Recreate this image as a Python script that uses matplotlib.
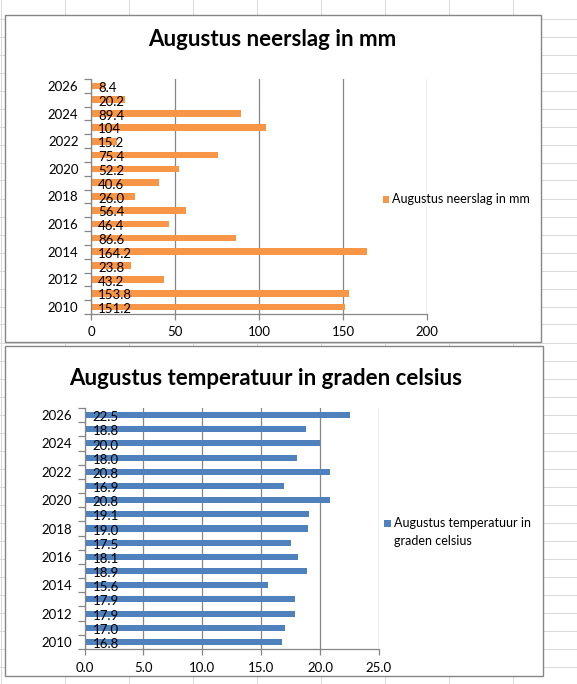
import matplotlib
matplotlib.use("Agg")
import matplotlib.pyplot as plt
from matplotlib.patches import Rectangle
from matplotlib.lines import Line2D

plt.rcParams['font.family'] = ['Lato', 'DejaVu Sans']

years = list(range(2010, 2027))
neerslag = [151.2, 153.8, 43.2, 23.8, 164.2, 86.6, 46.4, 56.4, 26.0, 40.6,
            52.2, 75.4, 15.2, 104, 89.4, 20.2, 8.4]
neerslag_labels = ["151.2", "153.8", "43.2", "23.8", "164.2", "86.6", "46.4", "56.4", "26.0", "40.6",
                   "52.2", "75.4", "15.2", "104", "89.4", "20.2", "8.4"]
temperatuur = [16.8, 17.0, 17.9, 17.9, 15.6, 18.9, 18.1, 17.5, 19.0, 19.1,
               20.8, 16.9, 20.8, 18.0, 20.0, 18.8, 22.5]
year_labels = [str(y) if (y % 2 == 0) else "" for y in years]
neerslag_ticks = [0, 50, 100, 150, 200]
temp_ticks = [0, 5, 10, 15, 20, 25]
temp_tick_labels = ["0.0", "5.0", "10.0", "15.0", "20.0", "25.0"]

W, H = 577, 684
fig = plt.figure(figsize=(W / 100, H / 100), dpi=100)
fig.patch.set_facecolor("white")

def fx(x):
    return x / W

def fy(y):
    return 1 - y / H

# Excel sheet grid
grid_c = "#DADADA"
for k in range(0, 10):
    x = 64 * k + 1
    fig.add_artist(Line2D([fx(x), fx(x)], [0, 1], color=grid_c, lw=0.75, zorder=-3))
for k in range(1, 39):
    y = 18 * k + 0.5
    fig.add_artist(Line2D([0, 1], [fy(y), fy(y)], color=grid_c, lw=0.75, zorder=-3))

# Chart boxes
border_c = "#868686"
for (x0, y0, x1, y1) in [(4.5, 14.5, 540.5, 342), (4.5, 346, 542.5, 676)]:
    fig.add_artist(Rectangle((fx(x0), fy(y1)), fx(x1) - fx(x0), fy(y0) - fy(y1),
                             facecolor="white", edgecolor=border_c, lw=1.0, zorder=-2))

gray = "#868686"

def style_axes(ax, xmax, ticks, ticklabels):
    ax.set_xlim(0, xmax)
    ax.set_ylim(-0.5, len(years) - 0.5)
    ax.set_facecolor("none")
    ax.set_xticks(ticks)
    ax.set_xticklabels(ticklabels, fontsize=9.5)
    ax.grid(axis="x", color=gray, lw=0.9)
    ax.set_axisbelow(True)
    ax.set_yticks(range(len(years)))
    ax.set_yticklabels(year_labels, fontsize=9.5)
    ax.set_yticks([i - 0.5 for i in range(len(years) + 1)], minor=True)
    ax.tick_params(axis="y", which="major", length=0, pad=9)
    ax.tick_params(axis="y", which="minor", length=5, color=gray, width=0.9)
    ax.tick_params(axis="x", length=4, color=gray, width=0.9, pad=5)
    for s in ["top", "right"]:
        ax.spines[s].set_visible(False)
    for s in ["left", "bottom"]:
        ax.spines[s].set_color(gray)
        ax.spines[s].set_linewidth(0.9)

# Top chart
ax1 = fig.add_axes([fx(91), fy(314), fx(427) - fx(91), fy(79) - fy(314)])
ax1.barh(range(len(years)), neerslag, height=0.48, color="#F79646", zorder=2)
style_axes(ax1, 200, neerslag_ticks, [str(t) for t in neerslag_ticks])
for i, lab in enumerate(neerslag_labels):
    ax1.annotate(lab, (0, i), xytext=(5, -1.5), textcoords="offset points",
                 ha="left", va="center", fontsize=9.5, zorder=3)
fig.text(fx(272), fy(40), "Augustus neerslag in mm", ha="center", va="center",
         fontsize=16, fontweight="bold")
fig.add_artist(Rectangle((fx(383), fy(202.5)), fx(6.5), 6.5 / H, facecolor="#F79646",
                         edgecolor="none", zorder=3))
fig.text(fx(392), fy(199), "Augustus neerslag in mm", ha="left", va="center", fontsize=9)

# Bottom chart
ax2 = fig.add_axes([fx(84.5), fy(649), fx(379) - fx(84.5), fy(408) - fy(649)])
ax2.barh(range(len(years)), temperatuur, height=0.43, color="#4F81BD", zorder=2)
style_axes(ax2, 25, temp_ticks, temp_tick_labels)
for i, v in enumerate(temperatuur):
    ax2.annotate(f"{v:.1f}", (0, i), xytext=(6, -1.5), textcoords="offset points",
                 ha="left", va="center", fontsize=9.5, zorder=3)
fig.text(fx(266), fy(378), "Augustus temperatuur in graden celsius", ha="center", va="center",
         fontsize=16, fontweight="bold")
fig.add_artist(Rectangle((fx(383.5), fy(527)), fx(7), 7 / H, facecolor="#4F81BD",
                         edgecolor="none", zorder=3))
fig.text(fx(394), fy(523), "Augustus temperatuur in", ha="left", va="center", fontsize=9)
fig.text(fx(394), fy(541), "graden celsius", ha="left", va="center", fontsize=9)

fig.savefig("out.png", dpi=100)
